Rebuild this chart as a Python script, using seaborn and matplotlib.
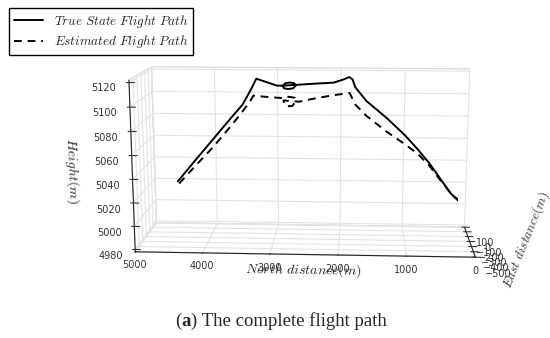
import numpy as np
import pandas as pd
import matplotlib
matplotlib.use("Agg")
import matplotlib.pyplot as plt
import seaborn as sns

# true flight path (north m, east m, height m)
north_true = [4580, 4300, 4000, 3700, 3530, 3400, 3310, 3150, 2990, 2900,
              2870, 2800, 2730, 2700, 2730, 2800, 2870, 2900, 2650, 2400,
              2110, 1950, 1870, 1820, 1775, 1600, 1280, 1000, 790, 600,
              400, 250, 130, 10]
east_true = [0, 0, 0, 0, 0, 0, 0, 0, 0, 0,
             60, 90, 60, 0, -60, -90, -60, 0, 0, 0,
             0, 0, 0, 0, 0, 0, 0, 10, 20, 30,
             50, 65, 80, 100]
height_true = [5021, 5040, 5060, 5080, 5091, 5104, 5114, 5111, 5108, 5108,
               5109, 5109, 5109, 5108, 5107, 5107, 5107, 5108, 5109, 5110,
               5111, 5114, 5116, 5114, 5107, 5095, 5080, 5065, 5052, 5039,
               5023, 5011, 5004, 4999]

# estimated flight path
north_est = [4560, 4300, 4000, 3700, 3530, 3400, 3360, 3150, 2890, 2860,
             2790, 2720, 2700, 2740, 2820, 2870, 2890, 2650, 2400, 2110,
             1862, 1775, 1600, 1280, 1000, 790, 600, 455, 205, 10]
east_est = [0, 0, 0, 0, 0, 0, 0, 0, 0, 60,
            90, 60, -10, -80, -90, -50, 0, 0, 0, 0,
            0, 0, 0, 0, 10, 20, 30, 45, 75, 100]
height_est = [5019, 5035, 5053, 5073, 5085, 5095, 5099, 5098, 5097, 5097,
              5096, 5096, 5094, 5092, 5092, 5093, 5095, 5094, 5097, 5100,
              5102, 5092, 5082, 5068, 5057, 5048, 5037, 5026, 5008, 5000]

north_ticks = [0, 1000, 2000, 3000, 4000, 5000]
east_ticks = [100, 0, -100, -200, -300, -400, -500]
height_ticks = [4980, 5000, 5020, 5040, 5060, 5080, 5100, 5120]

true_df = pd.DataFrame({"north": north_true, "east": east_true, "height": height_true})
est_df = pd.DataFrame({"north": north_est, "east": east_est, "height": height_est})

sns.set_style("whitegrid")
plt.rcParams["mathtext.fontset"] = "cm"
plt.rcParams["grid.color"] = "#e3e3e3"
plt.rcParams["axes.edgecolor"] = "#222222"

fig = plt.figure(figsize=(5.5, 3.38), dpi=100)
ax = fig.add_axes([0.1, 0.06, 0.9, 0.92], projection="3d")

ax.plot(true_df["north"], true_df["east"], true_df["height"],
        color="black", lw=1.4, label=r"$True\ State\ Flight\ Path$")
ax.plot(est_df["north"], est_df["east"], est_df["height"],
        color="black", lw=1.4, ls=(0, (4, 3)), label=r"$Estimated\ Flight\ Path$")

ax.set_xlim(0, 5000)
ax.set_ylim(100, -500)
ax.set_zlim(4978, 5122)
ax.set_xticks(north_ticks)
ax.set_yticks(east_ticks)
ax.set_zticks(height_ticks)
ax.set_box_aspect((4.4, 1.4, 2.25), zoom=1.2)
ax.set_proj_type("persp", focal_length=0.6)
ax.view_init(elev=12, azim=93)
ax.zaxis.set_ticks_position("lower")
ax.zaxis.set_label_position("lower")

for axis in (ax.xaxis, ax.yaxis, ax.zaxis):
    axis.set_pane_color((1, 1, 1, 1))
    axis.pane.set_edgecolor("#dddddd")
ax.tick_params(labelsize=7, colors="#333333", pad=0)
ax.xaxis.set_tick_params(pad=-3)

ax.set_xlabel(r"$North\ distance(m)$", fontsize=10, labelpad=-12)
ax.set_zlabel(r"$Height(m)$", fontsize=10, labelpad=-2)
fig.text(0.956, 0.29, r"$East\ distance(m)$", fontsize=9.5, rotation=68,
         ha="center", va="center", color="#333333")

fig.legend(loc="upper left", bbox_to_anchor=(0.005, 0.995), fontsize=9.5,
           frameon=True, fancybox=False, edgecolor="black", framealpha=1,
           handlelength=2.2, borderpad=0.35, labelspacing=0.25)

t1 = fig.text(0.318, 0.035, "(", family="Liberation Serif", fontsize=13.5)
t2 = ax.annotate("a", xy=(1, 0), xycoords=t1, va="bottom", family="Liberation Serif",
                 fontsize=13.5, fontweight="bold")
ax.annotate(") The complete flight path", xy=(1, 0), xycoords=t2, va="bottom",
            family="Liberation Serif", fontsize=13.5)

fig.savefig("out.png", dpi=100)
